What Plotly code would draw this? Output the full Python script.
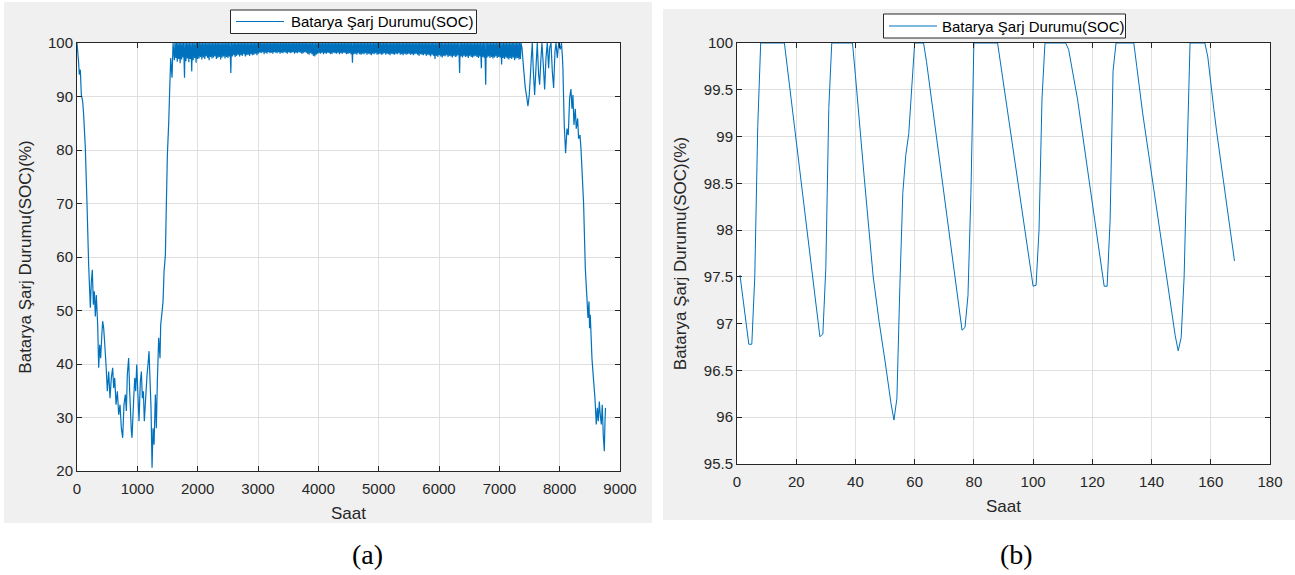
import plotly.graph_objects as go

# ---------------- DATA ----------------
# (a) Yıllık batarya SOC – Bölüm 1: 0–1600 saat (köşe noktaları)
saat_1 = [0, 27, 38, 55, 72, 94, 110, 138, 166, 193,
          221, 238, 254, 271, 287, 304, 320, 343, 359, 376,
          392, 409, 425, 442, 453, 481, 503, 525, 547, 569,
          591, 608, 625, 647, 669, 691, 713, 735, 757, 779,
          801, 818, 834, 856, 873, 901, 912, 940, 957, 973,
          990, 1012, 1028, 1050, 1067, 1083, 1100, 1116, 1138, 1161,
          1177, 1194, 1211, 1227, 1244, 1260, 1277, 1299, 1315, 1332,
          1354, 1376, 1387, 1410, 1426, 1443, 1465, 1481, 1498, 1521,
          1537, 1553, 1575, 1592]
soc_1 = [100, 96.3, 94.1, 95.0, 90.3, 89.1, 86.6, 80.4, 69.8, 58.6,
         50.5, 55.5, 57.6, 51.1, 53.6, 48.9, 52.9, 47.3, 39.3, 43.6,
         41.1, 44.9, 48.0, 46.7, 44.9, 39.9, 34.9, 38.6, 33.6, 37.4,
         39.3, 35.5, 37.4, 32.4, 34.9, 30.5, 32.4, 28.0, 26.2, 32.4,
         34.3, 31.2, 38.0, 41.1, 34.9, 27.4, 26.2, 33.6, 37.4, 34.9,
         39.9, 33.6, 29.3, 36.8, 38.6, 33.6, 34.9, 29.3, 33.6, 38.0,
         39.9, 42.4, 36.8, 31.8, 20.6, 28.0, 24.9, 34.3, 28.0, 36.8,
         44.9, 41.1, 47.3, 49.8, 51.7, 57.3, 60.4, 69.8, 79.1, 85.4,
         91.6, 97.2, 93.5, 100]

# Bölüm 2: gün 67–306, günlük en düşük SOC (günlük en yüksek = 100)
ilk_gun = 67
gunluk_en_yuksek = 100
gunluk_en_dusuk = [
    96.8, 97.2, 96.5, 97.0, 96.2, 96.9, 97.3, 93.5, 96.6, 97.1, 96.4, 97.0, 94.7, 96.8, 97.2, 96.3, 97.0,
    97.1, 97.4, 96.9, 97.3, 97.0, 97.5, 97.2, 96.8, 97.4, 97.1, 97.3, 97.5, 97.0, 97.2, 97.4, 96.9, 97.3,
    97.5, 97.1, 97.4, 97.2, 97.5,
    94.4,
    97.5, 97.7, 97.4, 97.6, 97.8, 97.5, 97.7, 97.6, 97.9, 97.5, 97.7, 97.8, 97.6, 97.9, 97.7, 97.8, 98.0, 97.7,
    98.0, 98.2, 98.1, 98.3, 97.9, 98.2, 98.0, 98.3, 98.1, 98.2, 98.0, 98.3, 98.2, 98.1, 98.3, 98.0, 98.2,
    98.1, 98.3, 98.2, 98.0, 98.3, 98.1, 98.2, 98.3, 98.0, 98.2, 98.1, 98.3, 98.2, 98.0, 98.1, 98.3, 98.2,
    98.0, 97.8, 98.1, 97.9, 97.6, 97.5, 97.8, 98.0,
    98.1, 98.0, 98.2, 97.9, 98.1, 98.0, 98.2, 98.1, 97.9, 98.0, 98.2, 98.1, 98.0, 98.2, 97.9, 98.1, 98.0,
    98.2, 98.1, 97.9, 98.0, 98.1, 97.9,
    96.3,
    97.9, 98.0, 97.8, 98.1, 97.9, 97.8, 98.0, 97.9, 98.1, 97.8,
    98.0, 97.9, 97.7, 98.0, 97.9, 98.1, 97.8, 97.9, 98.0, 97.8,
    97.9, 98.1, 97.8, 98.0, 97.9, 97.7, 98.0, 97.9, 97.8, 98.0,
    97.9, 98.1, 97.8, 97.9, 97.7, 98.0, 97.8, 97.9, 98.0, 97.8,
    97.9, 97.7, 97.9, 98.0, 97.8, 97.6, 97.9, 97.8, 97.7, 97.9,
    97.6, 97.8, 97.7, 97.5, 97.8, 97.6,
    97.0,
    97.6, 97.4, 97.7, 97.5, 97.3, 97.6, 97.5, 97.7, 97.4, 97.6, 97.5, 97.3, 97.6, 97.4, 97.5, 97.7,
    94.4,
    97.5, 97.3, 97.6, 97.4, 97.5, 97.2, 97.6, 97.4, 97.3, 97.5, 97.6, 97.4, 97.2, 97.5,
    95.3,
    97.4, 97.2,
    92.2,
    97.3, 97.5, 97.2, 97.4, 97.1, 97.3, 97.5, 97.2, 97.4, 97.3,
    96.0,
    97.2, 97.0, 97.3, 97.1, 96.9, 97.2, 97.0, 97.3, 96.8, 97.1, 97.2, 96.9, 97.0,
]

# Bölüm 3: 7375–8760 saat (köşe noktaları)
saat_3 = [7375, 7402, 7430, 7457, 7474, 7496, 7513, 7530, 7546, 7563,
          7585, 7607, 7629, 7651, 7668, 7690, 7706, 7728, 7751, 7773,
          7795, 7817, 7834, 7856, 7878, 7900, 7922, 7939, 7961, 7983,
          8010, 8030, 8045, 8054, 8065, 8076, 8098, 8121, 8143, 8165,
          8187, 8204, 8220, 8237, 8259, 8275, 8298, 8314, 8337, 8353,
          8369, 8397, 8425, 8452, 8469, 8486, 8496, 8507, 8535, 8563,
          8585, 8607, 8624, 8640, 8657, 8673, 8690, 8706, 8722, 8740,
          8751, 8760]
soc_3 = [99.1, 95.3, 91.6, 89.7, 88.2, 90.3, 93.5, 97.2, 100, 94.9,
         90.3, 95.3, 100, 94.1, 92.2, 97.2, 100, 96.0, 91.3, 97.2,
         100, 95.3, 99.1, 100, 94.7, 91.6, 98.4, 100, 97.2, 100,
         98.8, 100, 97.5, 95.3, 89.7, 84.7, 79.4, 84.0, 82.8, 89.7,
         91.4, 87.7, 90.3, 84.7, 87.7, 84.0, 85.9, 82.1, 82.8, 80.3,
         76.6, 69.8, 57.9, 52.3, 48.6, 51.7, 46.7, 49.2, 41.1, 36.8,
         33.6, 28.7, 31.8, 29.3, 33.0, 30.5, 28.7, 32.4, 26.8, 23.7,
         29.3, 31.8]

# (b) Bir haftalık batarya SOC (köşe noktaları)
saat_b = [1, 4, 5, 6, 7, 8, 16,
          28, 29, 30, 31, 32,
          39, 40, 43, 46, 48, 50, 52, 53, 54, 55, 56, 57, 58, 60,
          63, 64, 76, 77, 78, 79, 80, 88,
          100, 101, 102, 103, 104, 111, 112, 115,
          124, 125, 126, 127, 128, 134, 135, 137, 140,
          148, 149, 150, 151, 152, 153, 158, 159, 161, 162, 168]
soc_b = [97.52, 96.78, 96.78, 97.5, 99.1, 100, 100,
         96.86, 96.89, 97.6, 99.3, 100,
         100, 99.65, 98.55, 97.5, 97.02, 96.6, 96.15, 95.97, 96.2, 97.4, 98.4, 98.8, 99.03, 100,
         100, 99.8, 96.93, 96.96, 97.3, 98.4, 100, 100,
         97.40, 97.41, 98.0, 99.4, 100, 100, 99.93, 99.4,
         97.40, 97.40, 98.1, 99.7, 100, 100, 99.75, 99.25, 98.6,
         96.87, 96.71, 96.85, 97.5, 98.8, 100, 100, 99.85, 99.3, 99.05, 97.67]

seri_adi = "Batarya Şarj Durumu(SOC)"
eksen_x = "Saat"
eksen_y = "Batarya Şarj Durumu(SOC)(%)"

# ------------- build series (a) -------------
x_a = list(saat_1)
y_a = list(soc_1)
for i, mn in enumerate(gunluk_en_dusuk):
    g = ilk_gun + i
    x_a += [g * 24 + 6, g * 24 + 15]
    y_a += [mn, gunluk_en_yuksek]
x_a += saat_3
y_a += soc_3

# ------------- layout helpers -------------
W, H = 1295, 575
def fx(p):
    return p / W
def fy(p):
    return 1 - p / H

MAVI = "#0072BD"
KOYU = "#262626"
GRID = "#dfdfdf"
FONT = "Liberation Sans"

fig = go.Figure()
fig.add_trace(go.Scatter(x=x_a, y=y_a, mode="lines", name=seri_adi, showlegend=False,
                         line=dict(color=MAVI, width=1.2, simplify=False),
                         xaxis="x", yaxis="y"))
fig.add_trace(go.Scatter(x=saat_b, y=soc_b, mode="lines", name=seri_adi, showlegend=False,
                         line=dict(color=MAVI, width=1, simplify=False),
                         xaxis="x2", yaxis="y2"))

ax_common = dict(showline=True, linecolor=KOYU, linewidth=1, mirror="ticks",
                 ticks="inside", ticklen=5, tickwidth=1, tickcolor=KOYU,
                 showgrid=True, gridcolor=GRID, gridwidth=1, zeroline=False,
                 automargin=False,
                 tickfont=dict(family=FONT, size=15, color=KOYU))
title_font = dict(family=FONT, size=17, color=KOYU)

fig.update_layout(
    template="none",
    width=W, height=H, margin=dict(l=0, r=0, t=0, b=0, pad=0),
    paper_bgcolor="white", plot_bgcolor="white",
    xaxis=dict(domain=[fx(77), fx(620)], range=[0, 9000], dtick=1000, tickformat="d",
               ticklabelstandoff=4, anchor="y",
               title=dict(text=eksen_x, font=title_font, standoff=11), **ax_common),
    yaxis=dict(domain=[fy(471), fy(43)], range=[20, 100], dtick=10,
               anchor="x", title=dict(text=eksen_y, font=title_font, standoff=12), **ax_common),
    xaxis2=dict(domain=[fx(737), fx(1270)], range=[0, 180], dtick=20,
                ticklabelstandoff=4, anchor="y2",
                title=dict(text=eksen_x, font=title_font, standoff=11), **ax_common),
    yaxis2=dict(domain=[fy(464), fy(43)], range=[95.5, 100], dtick=0.5,
                anchor="x2", title=dict(text=eksen_y, font=title_font, standoff=12), **ax_common),
    showlegend=False,
)

# figure backgrounds (MATLAB grey), white axes areas, legend boxes
shapes = [
    dict(type="rect", xref="paper", yref="paper", x0=fx(4), x1=fx(652), y0=fy(523), y1=fy(2),
         fillcolor="#f0f0f0", line=dict(width=0), layer="below"),
    dict(type="rect", xref="paper", yref="paper", x0=fx(663), x1=fx(1295), y0=fy(520), y1=fy(9),
         fillcolor="#f0f0f0", line=dict(width=0), layer="below"),
    dict(type="rect", xref="x domain", yref="y domain", x0=0, x1=1, y0=0, y1=1,
         fillcolor="white", line=dict(width=0), layer="below"),
    dict(type="rect", xref="x2 domain", yref="y2 domain", x0=0, x1=1, y0=0, y1=1,
         fillcolor="white", line=dict(width=0), layer="below"),
    # legend (a)
    dict(type="rect", xref="paper", yref="paper", x0=fx(230.5), x1=fx(476.5), y0=fy(33.5), y1=fy(10),
         fillcolor="white", line=dict(color=KOYU, width=1), layer="above"),
    dict(type="line", xref="paper", yref="paper", x0=fx(236), x1=fx(284), y0=fy(21.5), y1=fy(21.5),
         line=dict(color=MAVI, width=1.2), layer="above"),
    # legend (b)
    dict(type="rect", xref="paper", yref="paper", x0=fx(883.5), x1=fx(1125.5), y0=fy(38), y1=fy(14),
         fillcolor="white", line=dict(color=KOYU, width=1), layer="above"),
    dict(type="line", xref="paper", yref="paper", x0=fx(889), x1=fx(937), y0=fy(26), y1=fy(26),
         line=dict(color=MAVI, width=1), layer="above"),
]
fig.update_layout(shapes=shapes)

leg_font = dict(family=FONT, size=15, color="#000000")
fig.add_annotation(text=seri_adi, xref="paper", yref="paper", x=fx(288.5), y=fy(21.5),
                   xanchor="left", yanchor="middle", showarrow=False, font=leg_font)
fig.add_annotation(text=seri_adi, xref="paper", yref="paper", x=fx(940), y=fy(26),
                   xanchor="left", yanchor="middle", showarrow=False, font=leg_font)

fig.add_annotation(text="(a)", xref="paper", yref="paper", x=fx(367), y=fy(554),
                   xanchor="center", yanchor="middle", showarrow=False,
                   font=dict(family="Liberation Serif", size=28, color="#000000"))
fig.add_annotation(text="(b)", xref="paper", yref="paper", x=fx(1016), y=fy(554),
                   xanchor="center", yanchor="middle", showarrow=False,
                   font=dict(family="Liberation Serif", size=28, color="#000000"))

fig.write_html("out.html", config={"displayModeBar": False},
               post_script="document.body.style.margin='0px';document.body.style.overflow='hidden';")
